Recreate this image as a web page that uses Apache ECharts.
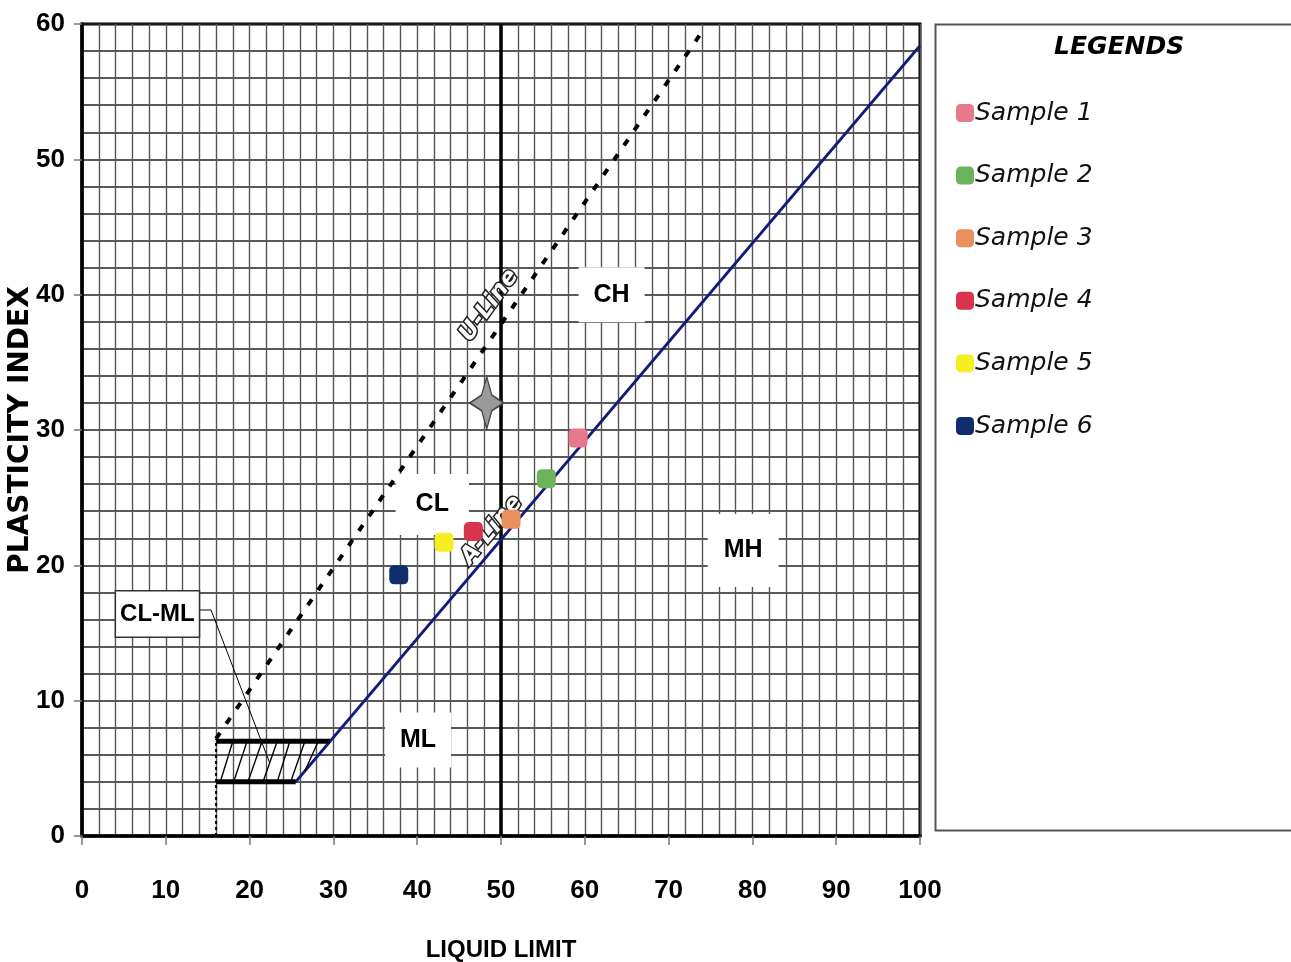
<!DOCTYPE html>
<html>
<head>
<meta charset="utf-8">
<script src="https://cdn.jsdelivr.net/npm/echarts@6/dist/echarts.min.js"></script>
<style>
  html, body { margin: 0; padding: 0; background: #fff; }
  #chart { width: 1291px; height: 962px; }
</style>
</head>
<body>
<div id="chart"></div>
<script>
// samples
const sampleNames = ['Sample 1', 'Sample 2', 'Sample 3', 'Sample 4', 'Sample 5', 'Sample 6']
const sampleLL = [59.2, 55.4, 51.2, 46.7, 43.2, 37.8]
const samplePI = [29.4, 26.4, 23.4, 22.5, 21.7, 19.3]
const sampleColors = ['#e8788c', '#6cb35c', '#e8915e', '#d8344e', '#f4ee22', '#0f2c6c']

// classification lines
const aLine = [[25.5, 4], [100, 58.4]]
const uLine = [[16, 7.2], [74.3, 59.7]]
const uFoot = [[16, 0], [16, 7.2]]
const llDivide = [[50, 0], [50, 60]]
const clmlLow = [[16, 4], [25.5, 4]]
const clmlHigh = [[16, 7], [29.6, 7]]
const hatch = [
  [[16.5, 4], [18, 7]], [[18.1, 4], [19.7, 7]], [[19.8, 4], [21.5, 7]],
  [[21.6, 4], [23.3, 7]], [[23.3, 4], [24.8, 7]], [[24.9, 4], [26.6, 7]],
  [[26.6, 4.8], [28.2, 7]]
]
const leader = [[13.6, 16.7], [15.4, 16.7], [22.4, 5.4]]
const starPoint = [48.3, 32]

// zone labels
const zoneNames = ['CH', 'CL', 'MH', 'ML']
const zoneLL = [63.2, 41.8, 78.9, 40.1]
const zonePI = [40.0, 24.5, 21.1, 7.1]

const chart = echarts.init(document.getElementById('chart'))

const narrow = "'Liberation Sans', Arial, sans-serif"

function lineSeries (data, style, z) {
  return {
    type: 'line',
    data: data,
    symbol: 'none',
    silent: true,
    z: z || 3,
    lineStyle: style
  }
}

const series = []
series.push(lineSeries(llDivide, { color: '#000', width: 3.5 }, 2))
series.push(lineSeries(uFoot, { color: '#000', width: 2, type: [3, 3] }))
series.push(lineSeries(uLine, { color: '#000', width: 4, type: [7, 11] }))
series.push(lineSeries(aLine, { color: '#141a7a', width: 3 }))
series.push(lineSeries(clmlLow, { color: '#000', width: 5 }))
series.push(lineSeries(clmlHigh, { color: '#000', width: 5 }))
hatch.forEach(h => series.push(lineSeries(h, { color: '#000', width: 1.4 })))
series.push({
  type: 'lines',
  coordinateSystem: 'cartesian2d',
  polyline: true,
  silent: true,
  symbol: ['none', 'arrow'],
  symbolSize: 10,
  lineStyle: { color: '#000', width: 1, opacity: 1 },
  data: [{ coords: leader }],
  z: 4
})

// zone label boxes
series.push({
  type: 'scatter',
  silent: true,
  symbolSize: 0,
  z: 5,
  itemStyle: { opacity: 1 },
  data: zoneNames.map((n, i) => ({
    value: [zoneLL[i], zonePI[i]],
    label: {
      show: true,
      position: 'inside',
      formatter: n,
      color: '#000',
      fontFamily: narrow,
      fontWeight: 'bold',
      fontSize: 25,
      backgroundColor: '#fff',
      padding: n === 'MH' ? [24, 16, 24, 16] : (n === 'CL' ? [18, 20, 18, 20] : [15, 15, 15, 15])
    }
  }))
})
series.push({
  type: 'scatter',
  silent: true,
  symbolSize: 0,
  z: 5,
  itemStyle: { opacity: 1 },
  data: [{
    value: [9.0, 16.4],
    label: {
      show: true,
      position: 'inside',
      formatter: 'CL-ML',
      color: '#000',
      fontFamily: narrow,
      fontWeight: 'bold',
      fontSize: 24,
      backgroundColor: '#fff',
      borderColor: '#333',
      borderWidth: 1.5,
      padding: [11, 4, 10, 4]
    }
  }]
})
// U-Line / A-Line tags
const tagStyle = {
  show: true,
  position: 'inside',
  color: '#fff',
  textBorderColor: '#222',
  textBorderWidth: 3,
  fontFamily: "'DejaVu Sans', sans-serif",
  fontStyle: 'italic',
  fontWeight: 'bold',
  fontSize: 23
}
series.push({
  type: 'scatter',
  silent: true,
  symbolSize: 0,
  z: 6,
  itemStyle: { opacity: 1 },
  data: [
    { value: [48.6, 39.2], label: Object.assign({}, tagStyle, { formatter: 'U-Line', rotate: 54 }) },
    { value: [48.9, 22.6], label: Object.assign({}, tagStyle, { formatter: 'A-Line', rotate: 50 }) }
  ]
})
// star marker
series.push({
  type: 'scatter',
  silent: true,
  z: 6,
  symbol: 'path://M0,-10 L3,-3 L10,0 L3,3 L0,10 L-3,3 L-10,0 L-3,-3 Z',
  symbolSize: [34, 52],
  itemStyle: { color: '#9a9a9a', borderColor: '#444', borderWidth: 1.5, opacity: 1 },
  data: [starPoint]
})
// samples
sampleNames.forEach((name, i) => {
  series.push({
    name: name,
    type: 'scatter',
    symbol: 'roundRect',
    symbolSize: 19,
    z: 7,
    itemStyle: { color: sampleColors[i], opacity: 1 },
    data: [[sampleLL[i], samplePI[i]]]
  })
})

const tickFont = { fontFamily: narrow, fontWeight: 'bold', fontSize: 26, color: '#000' }

const option = {
  backgroundColor: '#fff',
  animation: false,
  grid: {
    left: 82,
    right: 371,
    top: 24,
    bottom: 126,
    outerBoundsMode: 'none',
    containLabel: false,
    show: true,
    borderColor: '#000',
    borderWidth: 3,
    backgroundColor: 'transparent'
  },
  xAxis: [
    {
      // 2-unit grid
      type: 'value',
      min: 0,
      max: 100,
      interval: 2,
      axisLine: { show: false },
      axisTick: { show: false },
      axisLabel: { show: false },
      splitLine: { show: true, lineStyle: { color: '#555', width: 1.4 } }
    },
    {
      type: 'value',
      min: 0,
      max: 100,
      interval: 10,
      position: 'bottom',
      name: 'LIQUID LIMIT',
      nameLocation: 'middle',
      nameGap: 102,
      nameMoveOverlap: false,
      nameTextStyle: { fontFamily: narrow, fontWeight: 'bold', fontSize: 24, color: '#000' },
      axisLine: { show: true, onZero: false, lineStyle: { color: '#000', width: 3.5 } },
      axisTick: { show: true, length: 9, lineStyle: { color: '#777', width: 1.5 } },
      axisLabel: Object.assign({ margin: 42 }, tickFont),
      splitLine: { show: false }
    }
  ],
  yAxis: [
    {
      type: 'value',
      min: 0,
      max: 60,
      interval: 2,
      axisLine: { show: false },
      axisTick: { show: false },
      axisLabel: { show: false },
      splitLine: { show: true, lineStyle: { color: '#222', width: 1.6 } }
    },
    {
      type: 'value',
      min: 0,
      max: 60,
      interval: 10,
      position: 'left',
      name: 'PLASTICITY INDEX',
      nameLocation: 'middle',
      nameGap: 47,
      nameMoveOverlap: false,
      nameTextStyle: { fontFamily: "'DejaVu Sans', sans-serif", fontWeight: 'bold', fontSize: 28, color: '#000' },
      axisLine: { show: true, onZero: false, lineStyle: { color: '#000', width: 3.5 } },
      axisTick: { show: true, length: 8, lineStyle: { color: '#777', width: 1.5 } },
      axisLabel: Object.assign({ margin: 17 }, tickFont),
      splitLine: { show: false }
    }
  ],
  legend: {
    data: sampleNames,
    orient: 'vertical',
    left: 951,
    top: 95,
    itemWidth: 18,
    itemHeight: 18,
    itemGap: 36.6,
    icon: 'roundRect',
    selectedMode: false,
    itemStyle: { opacity: 1 },
    textStyle: {
      fontFamily: "'DejaVu Sans', sans-serif",
      fontStyle: 'italic',
      fontSize: 25,
      lineHeight: 26,
      color: '#111',
      padding: [0, 0, 0, -4]
    }
  },
  graphic: [
    {
      type: 'rect',
      left: 933,
      top: 22,
      shape: { width: 420, height: 806 },
      style: { fill: 'none', stroke: '#555', lineWidth: 2 },
      z: 0
    },
    {
      type: 'text',
      left: 1054,
      top: 35,
      style: {
        text: 'LEGENDS',
        font: 'italic bold 25px "DejaVu Sans", sans-serif',
        fill: '#000'
      }
    }
  ],
  series: series
}

chart.setOption(option)
</script>
</body>
</html>
